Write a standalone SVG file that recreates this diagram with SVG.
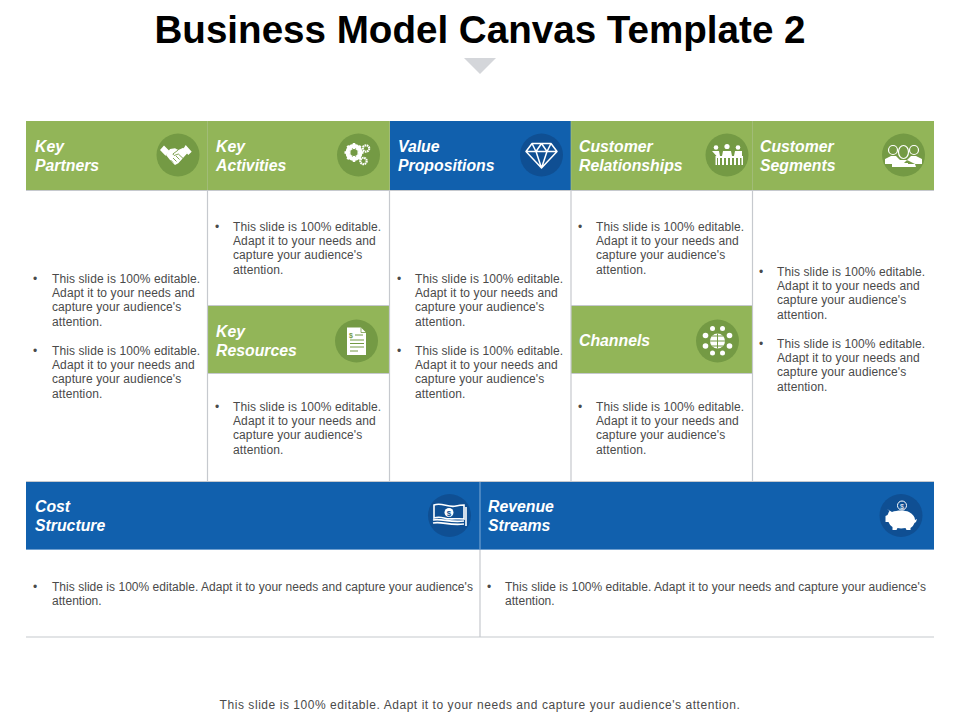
<svg xmlns="http://www.w3.org/2000/svg" width="960" height="720" viewBox="0 0 960 720">
<style>
text{font-family:"Liberation Sans",Arial,sans-serif}
.title{font-size:38.6px;font-weight:700;fill:#000}
.h{font-size:15.8px;font-weight:700;font-style:italic;fill:#fff}
.b{font-size:12px;fill:#4a4a4a;letter-spacing:.1px}
.bw{font-size:12px;fill:#4a4a4a;letter-spacing:.03px}
.foot{font-size:12px;fill:#4a4a4a;letter-spacing:.55px}
.g{fill:#92b558}.bl{fill:#1160ad}
.gc{fill:#749a44}.bc{fill:#0f4f93}
.w{fill:#fff}.wl{fill:none;stroke:#fff;stroke-width:1.4}
.l{stroke:#c6c9ce;stroke-width:1.2;fill:none}
</style>
<rect width="960" height="720" fill="#fff"/>
<text class="title" x="480" y="43" text-anchor="middle">Business Model Canvas Template 2</text>
<polygon points="464,58 496,58 480,74" fill="#d4d6da"/>

<g id="key-partners">
<rect class="g" x="26" y="121" width="182" height="69"/>
<text class="h"><tspan x="35" y="151.500">Key</tspan><tspan x="35" y="170.500">Partners</tspan></text>
<circle class="gc" cx="178" cy="155" r="21.500"/>
<path class="w" d="M160 150l4-4.500 5.500 5.500-4 4.700zM185.700 145l6 6.700-3.400 3.300-5-6z"/>
<path class="w" d="M170 149l5-.7 3.300 1.700 5-2.300 4 5.600-9 10-3.300 1.700-5-5-4-5z"/>
<path d="M178.300 150l-5.500 4 1.500 1.500 4-1.500 6.500 6M170.500 160l2.500 2.500M173 158l3.500 3.500M176 156l3.500 3.500" fill="none" stroke="#749a44" stroke-width=".9"/>
<text class="b"><tspan x="33" y="283">•</tspan><tspan x="52" y="283">This slide is 100% editable.</tspan><tspan x="52" y="297">Adapt it to your needs and</tspan><tspan x="52" y="311">capture your audience's</tspan><tspan x="52" y="326">attention.</tspan></text>
<text class="b"><tspan x="33" y="355">•</tspan><tspan x="52" y="355">This slide is 100% editable.</tspan><tspan x="52" y="369">Adapt it to your needs and</tspan><tspan x="52" y="383">capture your audience's</tspan><tspan x="52" y="398">attention.</tspan></text>
</g>

<g id="key-activities">
<rect class="g" x="208" y="121" width="182" height="69"/>
<text class="h"><tspan x="216" y="151.500">Key</tspan><tspan x="216" y="170.500">Activities</tspan></text>
<circle class="gc" cx="358.500" cy="155" r="21.500"/>
<circle cx="354" cy="152.500" r="6.500" fill="none" stroke="#fff" stroke-width="4"/>
<path d="M354 143v19M344.500 152.500h19M347.300 145.800l13.400 13.400M360.700 145.800l-13.400 13.400" stroke="#fff" stroke-width="2.500"/>
<circle cx="354" cy="152.500" r="3.500" fill="#749a44"/>
<circle class="wl" cx="366" cy="148.500" r="3.200" style="stroke-width:2.200;stroke-dasharray:1.600 .6"/>
<circle class="wl" cx="363.500" cy="161" r="3.200" style="stroke-width:2.200;stroke-dasharray:1.600 .6"/>
<text class="b"><tspan x="215" y="231">•</tspan><tspan x="233" y="231">This slide is 100% editable.</tspan><tspan x="233" y="245">Adapt it to your needs and</tspan><tspan x="233" y="259">capture your audience's</tspan><tspan x="233" y="274">attention.</tspan></text>
</g>

<g id="key-resources">
<rect class="g" x="208" y="306" width="182" height="67"/>
<text class="h"><tspan x="216" y="337">Key</tspan><tspan x="216" y="356">Resources</tspan></text>
<circle class="gc" cx="356.500" cy="341" r="21.500"/>
<path class="w" d="M347 327.500h14l5 5v22.500h-19z"/>
<path d="M361 327.500v5h5" fill="none" stroke="#749a44" stroke-width=".8"/>
<path d="M355 335h8M350 340h14M350 343.500h14M350 347h14M350 351h8" stroke="#749a44" stroke-width="1"/>
<text x="349" y="338" font-size="7" font-weight="700" fill="#749a44">$</text>
<text class="b"><tspan x="215" y="411">•</tspan><tspan x="233" y="411">This slide is 100% editable.</tspan><tspan x="233" y="425">Adapt it to your needs and</tspan><tspan x="233" y="439">capture your audience's</tspan><tspan x="233" y="454">attention.</tspan></text>
</g>

<g id="value-propositions">
<rect class="bl" x="390" y="121" width="181" height="69"/>
<text class="h"><tspan x="398" y="151.500">Value</tspan><tspan x="398" y="170.500">Propositions</tspan></text>
<circle class="bc" cx="541.500" cy="155" r="21.500"/>
<path d="M532 143.500h19l6 8-15.500 16.500-15.500-16.500zM526 151.500h31M532 143.500l4 8 5.500 16.500 5.500-16.500 4-8M536 151.500l5.500-8 5.500 8" fill="none" stroke="#fff" stroke-width="1.500" stroke-linejoin="round"/>
<text class="b"><tspan x="397" y="283">•</tspan><tspan x="415" y="283">This slide is 100% editable.</tspan><tspan x="415" y="297">Adapt it to your needs and</tspan><tspan x="415" y="311">capture your audience's</tspan><tspan x="415" y="326">attention.</tspan></text>
<text class="b"><tspan x="397" y="355">•</tspan><tspan x="415" y="355">This slide is 100% editable.</tspan><tspan x="415" y="369">Adapt it to your needs and</tspan><tspan x="415" y="383">capture your audience's</tspan><tspan x="415" y="398">attention.</tspan></text>
</g>

<g id="customer-relationships">
<rect class="g" x="571" y="121" width="182" height="69"/>
<text class="h"><tspan x="579" y="151.500">Customer</tspan><tspan x="579" y="170.500">Relationships</tspan></text>
<circle class="gc" cx="727" cy="155" r="21.500"/>
<circle class="w" cx="716" cy="147.500" r="2.300"/><circle class="w" cx="727" cy="146.500" r="2.600"/><circle class="w" cx="738" cy="147.500" r="2.300"/>
<path class="w" d="M712 151h7l1 5h2l1-5h8l1 5h2l1-5h7v5h1v9h-1.500v-7h-1.500v7h-2v-7h-2v7h-2v-7h-2v7h-2v-7h-2v7h-2v-7h-2v7h-2v-7h-2v7h-2v-7h-1v7h-1.500v-9h1z"/>
<text class="b"><tspan x="578" y="231">•</tspan><tspan x="596" y="231">This slide is 100% editable.</tspan><tspan x="596" y="245">Adapt it to your needs and</tspan><tspan x="596" y="259">capture your audience's</tspan><tspan x="596" y="274">attention.</tspan></text>
</g>

<g id="channels">
<rect class="g" x="571" y="306" width="182" height="67"/>
<text class="h" x="579" y="345.500">Channels</text>
<circle class="gc" cx="717.500" cy="341" r="21.500"/>
<circle cx="717.500" cy="341" r="7.500" fill="#fff"/>
<path d="M710 341h15M717.500 333.500v15M712 336h11M712 346h11" stroke="#749a44" stroke-width="1"/>
<g class="w"><circle cx="712.500" cy="328.500" r="2.500"/><circle cx="722.500" cy="328.500" r="2.500"/><circle cx="705.500" cy="335.500" r="2.800"/><circle cx="729.500" cy="335.500" r="2.800"/><circle cx="705.500" cy="346" r="2.800"/><circle cx="729.500" cy="346" r="2.800"/><circle cx="712.500" cy="353" r="2.500"/><circle cx="722.500" cy="353" r="2.500"/></g>
<text class="b"><tspan x="578" y="411">•</tspan><tspan x="596" y="411">This slide is 100% editable.</tspan><tspan x="596" y="425">Adapt it to your needs and</tspan><tspan x="596" y="439">capture your audience's</tspan><tspan x="596" y="454">attention.</tspan></text>
</g>

<g id="customer-segments">
<rect class="g" x="753" y="121" width="181" height="69"/>
<text class="h"><tspan x="760" y="151.500">Customer</tspan><tspan x="760" y="170.500">Segments</tspan></text>
<circle class="gc" cx="903.500" cy="155" r="21.500"/>
<path class="w" d="M885 159l6-3h5l3 3 4 4h-4v1h-14zM922 159l-6-3h-5l-3 3-4 4h4v1h14zM892 164l8-4h7l8 4 1 3h-24z"/>
<g fill="#749a44" stroke="#fff" stroke-width="1.200"><circle cx="893" cy="150" r="4.500"/><circle cx="914" cy="150" r="4.500"/><ellipse cx="903.500" cy="152" rx="5" ry="6.500"/></g>
<text class="b"><tspan x="759" y="276">•</tspan><tspan x="777" y="276">This slide is 100% editable.</tspan><tspan x="777" y="290">Adapt it to your needs and</tspan><tspan x="777" y="304">capture your audience's</tspan><tspan x="777" y="319">attention.</tspan></text>
<text class="b"><tspan x="759" y="348">•</tspan><tspan x="777" y="348">This slide is 100% editable.</tspan><tspan x="777" y="362">Adapt it to your needs and</tspan><tspan x="777" y="376">capture your audience's</tspan><tspan x="777" y="391">attention.</tspan></text>
</g>

<g id="cost-structure">
<rect class="bl" x="26" y="482" width="454" height="67"/>
<text class="h"><tspan x="35" y="511.500">Cost</tspan><tspan x="35" y="530.500">Structure</tspan></text>
<circle class="bc" cx="449.500" cy="515.500" r="21.500"/>
<path d="M434 505c8-3 14 3 22 1 4-1 6-1 8-1v14c-7-1-14 1-20-1-4-1-7-1-10 0zM433 520c9-2 16 3 31 1M433 523c9-2 16 3 31 1M466 507v19" fill="none" stroke="#fff" stroke-width="1.600"/>
<ellipse cx="449" cy="512.500" rx="4.500" ry="4.500" fill="#fff"/>
<text x="449" y="515.500" font-size="8" font-weight="700" text-anchor="middle" fill="#0f4f93">$</text>
<text class="bw"><tspan x="33" y="591">•</tspan><tspan x="52" y="591">This slide is 100% editable. Adapt it to your needs and capture your audience's</tspan><tspan x="52" y="605">attention.</tspan></text>
</g>

<g id="revenue-streams">
<rect class="bl" x="480" y="482" width="454" height="67"/>
<text class="h"><tspan x="488" y="511.500">Revenue</tspan><tspan x="488" y="530.500">Streams</tspan></text>
<circle class="bc" cx="901" cy="515.500" r="21.500"/>
<circle cx="902" cy="505.500" r="4.500" fill="none" stroke="#fff" stroke-width="1"/>
<text x="902" y="508.500" font-size="7" text-anchor="middle" fill="#fff">$</text>
<path class="w" d="M887 509l5 3c5-2 13-2 17 0 4 2 6 5 6 8l2-1-1 3-1.500 1c-1 2-2 4-4 5v2h-4l-1-2c-3 .5-6 .5-8 0l-1 2h-4v-3c-2-1-3-3-4-5h-3v-6l2-1c1-2 1-3 2-4z"/>
<text class="bw"><tspan x="487" y="591">•</tspan><tspan x="505" y="591">This slide is 100% editable. Adapt it to your needs and capture your audience's</tspan><tspan x="505" y="605">attention.</tspan></text>
</g>

<g id="connectors">
<path class="l" d="M26 190.500H934M207.500 190V482M389.500 190V482M571 190V482M752.500 190V482M208 305.500H389M571 305.500H752M208 373.500H389M571 373.500H752M26 481.500H934M26 637H934"/>
<path d="M207.500 121V190M389.500 121V190M752.500 121V190M571 121V190" stroke="#a8bf85" stroke-width="1" opacity=".7"/>
<path d="M26 549.500H934M480 482V549" stroke="#6f9fcf" stroke-width="1.200"/>
<path class="l" d="M480 550V637"/>
</g>

<text class="foot" x="480" y="709" text-anchor="middle">This slide is 100% editable. Adapt it to your needs and capture your audience's attention.</text>
</svg>
